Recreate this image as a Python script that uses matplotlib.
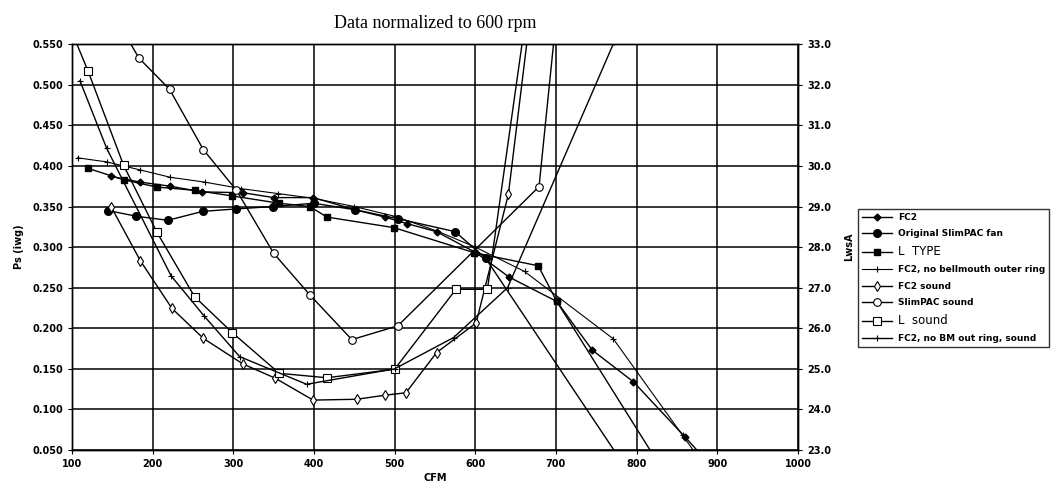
import numpy as np
import matplotlib.pyplot as plt
from matplotlib.ticker import MultipleLocator, FormatStrFormatter

# ---- pressure curves (left axis, Ps in iwg) ----
fc2_cfm = [149, 185, 222, 261, 312, 350, 399, 451, 488, 515, 552, 601, 642, 701, 745, 796, 860, 900]
fc2_ps = [0.387, 0.380, 0.375, 0.368, 0.367, 0.361, 0.361, 0.346, 0.337, 0.329, 0.319, 0.293, 0.263, 0.233, 0.173, 0.134, 0.066, 0.022]

slim_cfm = [145, 180, 219, 262, 303, 349, 400, 451, 504, 575, 613, 800]
slim_ps = [0.345, 0.338, 0.333, 0.344, 0.347, 0.350, 0.354, 0.346, 0.335, 0.319, 0.286, 0.008]

ltype_cfm = [120, 164, 205, 252, 299, 357, 395, 416, 499, 599, 678, 701, 850]
ltype_ps = [0.397, 0.383, 0.374, 0.370, 0.363, 0.354, 0.350, 0.337, 0.324, 0.293, 0.277, 0.233, -0.003]

nobm_cfm = [107, 143, 185, 222, 265, 310, 355, 400, 450, 500, 552, 600, 661, 771, 857, 900]
nobm_ps = [0.410, 0.405, 0.395, 0.386, 0.380, 0.372, 0.366, 0.360, 0.350, 0.338, 0.320, 0.300, 0.270, 0.187, 0.068, 0.008]

# ---- sound curves (right axis, LwsA) ----
fc2s_cfm = [149, 185, 224, 263, 312, 352, 399, 453, 488, 514, 552, 601, 641, 668]
fc2s_lw = [28.98, 27.66, 26.49, 25.75, 25.12, 24.77, 24.23, 24.25, 24.35, 24.41, 25.40, 26.13, 29.30, 33.70]

slims_cfm = [150, 183, 221, 263, 304, 350, 395, 447, 504, 679, 700]
slims_lw = [33.80, 32.66, 31.89, 30.40, 29.40, 27.85, 26.82, 25.72, 26.06, 29.49, 33.60]

ls_cfm = [100, 120, 164, 205, 252, 299, 357, 416, 500, 576, 615, 665]
ls_lw = [33.30, 32.34, 30.02, 28.38, 26.78, 25.89, 24.89, 24.78, 24.99, 26.96, 26.96, 34.00]

nobms_cfm = [110, 143, 223, 264, 308, 391, 500, 573, 640, 772]
nobms_lw = [32.10, 30.44, 27.29, 26.30, 25.30, 24.62, 25.00, 25.77, 27.00, 33.05]

fig = plt.figure(figsize=(10.57, 4.91), dpi=100)
ax = fig.add_axes([0.068, 0.0835, 0.687, 0.8265])
ax2 = ax.twinx()

kw = dict(color='black', lw=1.0)
l1, = ax.plot(fc2_cfm, fc2_ps, marker='D', ms=3.5, mfc='black', mec='black', label='FC2', **kw)
l2, = ax.plot(slim_cfm, slim_ps, marker='o', ms=5.5, mfc='black', mec='black', label='Original SlimPAC fan', **kw)
l3, = ax.plot(ltype_cfm, ltype_ps, marker='s', ms=5, mfc='black', mec='black', label='L  TYPE', **kw)
l4, = ax.plot(nobm_cfm, nobm_ps, marker='+', ms=5, mew=0.8, color='black', lw=0.8,
              label='FC2, no bellmouth outer ring')

l5, = ax2.plot(fc2s_cfm, fc2s_lw, marker='d', ms=5, mfc='white', mec='black', mew=0.8, label='FC2 sound', **kw)
l6, = ax2.plot(slims_cfm, slims_lw, marker='o', ms=5.5, mfc='white', mec='black', mew=0.8, label='SlimPAC sound', **kw)
l7, = ax2.plot(ls_cfm, ls_lw, marker='s', ms=5.5, mfc='white', mec='black', mew=0.8, label='L  sound', **kw)
l8, = ax2.plot(nobms_cfm, nobms_lw, marker='+', ms=5, mew=0.8, color='black', lw=1.0,
               label='FC2, no BM out ring, sound')

ax.set_xlim(100, 1000)
ax.set_ylim(0.05, 0.55)
ax2.set_ylim(23, 33)
ax.xaxis.set_major_locator(MultipleLocator(100))
ax.yaxis.set_major_locator(MultipleLocator(0.05))
ax.yaxis.set_major_formatter(FormatStrFormatter('%.3f'))
ax2.yaxis.set_major_locator(MultipleLocator(1))
ax2.yaxis.set_major_formatter(FormatStrFormatter('%.1f'))
ax.grid(True, color='black', lw=1.1)
ax.set_axisbelow(True)

for a in (ax, ax2):
    a.tick_params(labelsize=7, length=3, width=0.8, direction='out')
    for lab in a.get_xticklabels() + a.get_yticklabels():
        lab.set_fontweight('bold')
    for s in a.spines.values():
        s.set_linewidth(1.0)

ax.set_xlabel('CFM', fontsize=7, fontweight='bold', labelpad=3)
ax.set_ylabel('Ps (iwg)', fontsize=7, fontweight='bold', labelpad=6)
ax2.set_ylabel('LwsA', fontsize=7, fontweight='bold', labelpad=9)
ax.set_title('Data normalized to 600 rpm', fontsize=13, family='Liberation Serif', pad=12)

leg = fig.legend(handles=[l1, l2, l3, l4, l5, l6, l7, l8], loc='upper left',
                 bbox_to_anchor=(0.807, 0.584), fontsize=6.5, frameon=True, fancybox=False,
                 edgecolor='black', handlelength=3.4, borderpad=0.45, labelspacing=0.8,
                 handletextpad=0.6)
leg.get_frame().set_linewidth(1.0)
for t in leg.get_texts():
    if t.get_text().startswith('L  '):
        t.set_fontsize(8.5)
    else:
        t.set_fontweight('bold')

fig.savefig('out.png', dpi=100)
